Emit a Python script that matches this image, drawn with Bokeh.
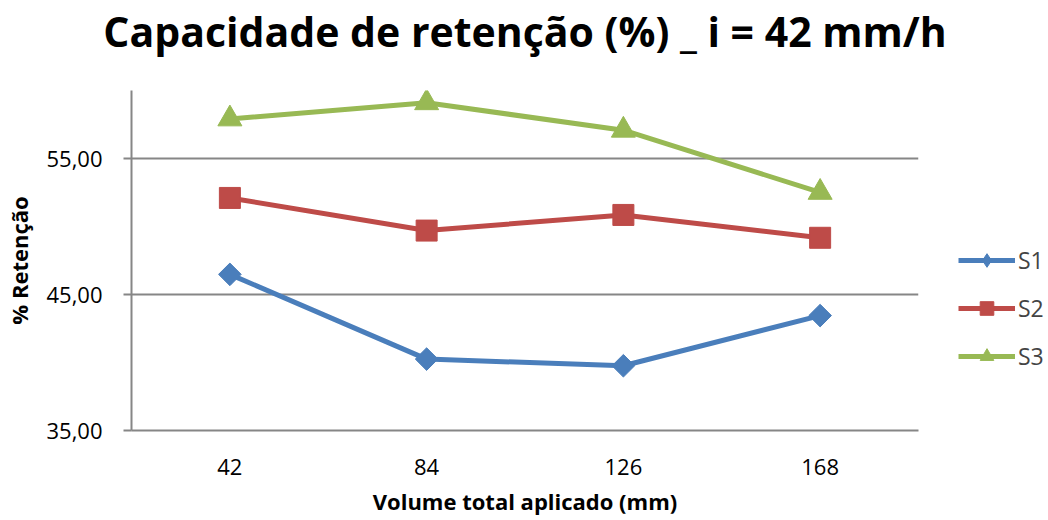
import math
from bokeh.plotting import figure
from bokeh.models import FactorRange, Range1d, FixedTicker, CustomJSTickFormatter, Legend, LegendItem, Title
from bokeh.embed import file_html
from bokeh.resources import INLINE

categories = ["42", "84", "126", "168"]
s1 = [46.48, 40.25, 39.76, 43.45]
s2 = [52.10, 49.70, 50.85, 49.17]
s3 = [57.91, 59.10, 57.08, 52.51]
y_ticks = [35, 45, 55]

FONT = "Open Sans"
GRID = "#868686"

p = figure(title=None, frame_width=787, frame_height=340, x_range=FactorRange(*categories), y_range=Range1d(35, 60),
           output_backend="svg", toolbar_location=None,
           min_border_left=131, min_border_right=126, min_border_top=90, min_border_bottom=86)

spacer = Title(text=" ", text_font_size="2px", standoff=28)
main_title = Title(text="Capacidade de retenção (%) _ i = 42 mm/h", text_font=FONT, text_font_size="41px",
                   text_font_style="bold", align="center", text_color="#000000", standoff=0)
p.add_layout(spacer, "above")
p.add_layout(main_title, "above")

p.outline_line_color = None
p.x_range.range_padding = 0

p.xgrid.grid_line_color = None
p.ygrid.grid_line_color = GRID
p.ygrid.grid_line_width = 2
p.yaxis.ticker = FixedTicker(ticks=y_ticks)
p.yaxis.formatter = CustomJSTickFormatter(code="return tick.toFixed(2).replace('.', ',');")
for ax in (p.xaxis[0], p.yaxis[0]):
    ax.axis_line_color = GRID
    ax.axis_line_width = 2
    ax.major_label_text_font = FONT
    ax.major_label_text_font_size = "22px"
    ax.major_label_text_color = "#000000"
    ax.axis_label_text_font = FONT
    ax.axis_label_text_font_size = "22px"
    ax.axis_label_text_font_style = "bold"
    ax.axis_label_text_color = "#000000"
    ax.minor_tick_line_color = None
p.yaxis.major_tick_line_color = GRID
p.yaxis.major_tick_line_width = 2
p.yaxis.major_tick_out = 8
p.yaxis.major_tick_in = 0
p.xaxis.major_tick_line_color = None
p.xaxis.major_label_standoff = 22
p.yaxis.major_label_standoff = 21
p.xaxis.axis_label = "Volume total aplicado (mm)"
p.yaxis.axis_label = "% Retenção"
p.xaxis.axis_label_standoff = 8
p.yaxis.axis_label_standoff = 9

# (name, values, colour, plot marker, size, angle, legend marker)
series = [("S1", s1, "#4A7EBB", "square", 16, math.pi / 4, "diamond"),
          ("S2", s2, "#BE4B48", "square", 21, 0, "square"),
          ("S3", s3, "#98B954", "triangle", 24, 0, "triangle")]
items = []
for name, vals, col, mk, sz, ang, lmk in series:
    l = p.line(categories, vals, line_color=col, line_width=5)
    m = p.scatter(categories, vals, marker=mk, size=sz, angle=ang, fill_color=col, line_color=col)
    if lmk != mk:
        lm = p.scatter(categories, vals, marker=lmk, size=0, fill_color=col, line_color=col)
    else:
        lm = m
    items.append(LegendItem(label=name, renderers=[l, lm]))

legend = Legend(items=items, location=(40, 57), glyph_width=57, glyph_height=34, spacing=14,
                label_height=34, label_text_font=FONT, label_text_font_size="23px", label_standoff=3,
                border_line_color=None, background_fill_alpha=0, margin=0, padding=0)
p.add_layout(legend, "right")

open("out.html", "w").write(file_html(p, INLINE))
